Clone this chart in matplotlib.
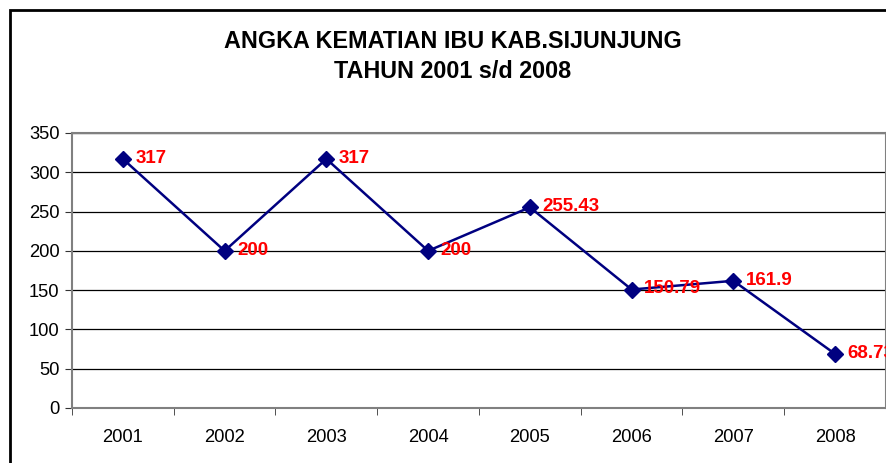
import matplotlib
matplotlib.use("Agg")
import matplotlib.pyplot as plt
from matplotlib.patches import Rectangle

years = ["2001", "2002", "2003", "2004", "2005", "2006", "2007", "2008"]
values = [317, 200, 317, 200, 255.43, 150.79, 161.9, 68.73]
labels = ["317", "200", "317", "200", "255.43", "150.79", "161.9", "68.73"]
yticks = [0, 50, 100, 150, 200, 250, 300, 350]

plt.rcParams['font.family'] = ['Liberation Sans', 'DejaVu Sans']

W, H = 887, 463
fig = plt.figure(figsize=(W/100, H/100), dpi=100)
fig.patch.set_facecolor('white')

# outer chart frame
fig.add_artist(Rectangle((10/W, -0.5), 2.0, 1.5 - 10/H, transform=fig.transFigure,
                         fill=False, edgecolor='black', linewidth=2.0, zorder=0))

ax = fig.add_axes([72/W, 1 - 408/H, (886-72)/W, (408-133)/H])
x = list(range(len(years)))
ax.plot(x, values, color='#000080', linewidth=1.8, marker='D', markersize=8,
        markerfacecolor='#000080', markeredgecolor='#000080', zorder=3, clip_on=False)
for xi, v, lab in zip(x, values, labels):
    ax.annotate(lab, (xi, v), xytext=(9, 0.5), textcoords='offset points',
                color='#FF0000', fontsize=13.5, fontweight='bold', va='center', ha='left',
                zorder=4, annotation_clip=False)

ax.set_xlim(-0.5, 7.5)
ax.set_ylim(0, 350)
ax.set_yticks(yticks)
ax.set_yticklabels([str(t) for t in yticks], fontsize=13.2)
ax.set_xticks(x)
ax.set_xticklabels(years, fontsize=13.2)
ax.set_xticks([i + 0.5 for i in range(-1, len(years))], minor=True)
ax.tick_params(axis='x', which='major', length=0, pad=15)
ax.tick_params(axis='x', which='minor', length=5, color='#333333', direction='out')
ax.tick_params(axis='y', length=5, color='#333333', direction='out', pad=4)
for yv in yticks[1:]:
    ax.axhline(yv, color='black', linewidth=0.9, zorder=1)
for s in ax.spines.values():
    s.set_color('#808080')
    s.set_linewidth(1.5)

fig.text(453/W, 1 - 42/H, "ANGKA KEMATIAN IBU KAB.SIJUNJUNG", ha='center', va='center',
         fontsize=16.8, fontweight='bold')
fig.text(453/W, 1 - 72/H, "TAHUN 2001 s/d 2008", ha='center', va='center',
         fontsize=16.8, fontweight='bold')

fig.savefig("out.png", dpi=100)
